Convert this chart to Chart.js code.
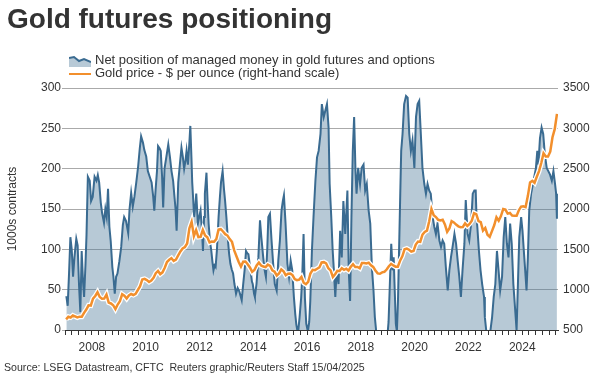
<!DOCTYPE html>
<html>
<head>
<meta charset="utf-8">
<script src="https://cdn.jsdelivr.net/npm/chart.js@4.4.1/dist/chart.umd.min.js"></script>
<style>
  body { margin: 0; background: #fff; }
  #wrap { position: relative; width: 600px; height: 376px; overflow: hidden; font-family: "Liberation Sans", Arial, sans-serif; color: #333; }
  #chart { position: absolute; left: 0; top: 0; }
  .title { position: absolute; left: 7px; top: 5px; font-size: 28px; font-weight: bold; line-height: 28px; color: #333; white-space: nowrap; }
  .legend { position: absolute; left: 69px; font-size: 13px; line-height: 13px; white-space: nowrap; }
  .legend svg { vertical-align: middle; margin-right: 4px; }
  .source { position: absolute; left: 4px; top: 361px; font-size: 10.6px; white-space: nowrap; }
</style>
</head>
<body>
<div id="wrap">
  <canvas id="chart" width="600" height="376"></canvas>
  <div class="title">Gold futures positioning</div>
  <div class="legend" style="top:53px"><svg width="22" height="12"><polygon points="0,3 5,2 10,6 15,4 22,7 22,12 0,12" fill="#b7c9d6"/><polyline points="0,3 5,2 10,6 15,4 22,7" fill="none" stroke="#3a6b91" stroke-width="2"/></svg>Net position of managed money in gold futures and options</div>
  <div class="legend" style="top:66px"><svg width="22" height="12"><line x1="0" y1="6" x2="22" y2="6" stroke="#f28f2c" stroke-width="2"/></svg>Gold price - $ per ounce (right-hand scale)</div>
  <div class="source">Source: LSEG Datastream, CFTC&nbsp; Reuters graphic/Reuters Staff 15/04/2025</div>
</div>
<script>
// net position of managed money, 1000s contracts: [decimal year, value]
const netPosition = [
  [2007.05, 42], [2007.1, 30], [2007.15, 70], [2007.2, 115], [2007.25, 100], [2007.3, 66], [2007.35, 90],
  [2007.42, 113], [2007.47, 105], [2007.52, 57], [2007.57, 22], [2007.62, 98], [2007.67, 60], [2007.71, 41],
  [2007.76, 80], [2007.8, 118], [2007.85, 190], [2007.92, 185], [2007.97, 160],
  [2008.03, 165], [2008.1, 190], [2008.17, 185], [2008.22, 192], [2008.27, 183], [2008.33, 158], [2008.38, 145],
  [2008.45, 133], [2008.5, 150], [2008.55, 140], [2008.6, 175], [2008.65, 128], [2008.7, 110], [2008.76, 78],
  [2008.8, 66], [2008.85, 45], [2008.9, 66], [2008.95, 70],
  [2009.02, 85], [2009.09, 103], [2009.15, 130], [2009.2, 140], [2009.27, 135], [2009.35, 120], [2009.4, 150],
  [2009.46, 170], [2009.52, 153], [2009.58, 165], [2009.65, 183], [2009.72, 203], [2009.78, 225], [2009.83, 240],
  [2009.9, 232], [2009.95, 223],
  [2010.02, 215], [2010.08, 197], [2010.15, 190], [2010.22, 183], [2010.28, 165], [2010.32, 148], [2010.37, 175],
  [2010.42, 197], [2010.46, 228], [2010.52, 225], [2010.56, 222], [2010.61, 190], [2010.65, 152], [2010.7, 200],
  [2010.77, 215], [2010.84, 230], [2010.9, 215], [2010.96, 197],
  [2011.02, 185], [2011.06, 169], [2011.11, 150], [2011.15, 123], [2011.21, 183], [2011.27, 205], [2011.33, 226],
  [2011.38, 215], [2011.43, 200], [2011.48, 210], [2011.52, 222], [2011.57, 205], [2011.62, 230], [2011.66, 253],
  [2011.7, 215], [2011.73, 183], [2011.77, 160], [2011.8, 140], [2011.85, 155], [2011.88, 169], [2011.94, 132],
  [2011.99, 140],
  [2012.04, 148], [2012.09, 125], [2012.13, 98], [2012.17, 140], [2012.2, 169], [2012.26, 195], [2012.3, 160],
  [2012.34, 132], [2012.39, 110], [2012.44, 98], [2012.48, 85], [2012.52, 74], [2012.56, 80], [2012.6, 78],
  [2012.65, 100], [2012.71, 140], [2012.76, 165], [2012.8, 183], [2012.86, 197], [2012.91, 175], [2012.95, 161],
  [2013.0, 140], [2013.05, 115], [2013.1, 95], [2013.15, 82], [2013.2, 75], [2013.25, 70], [2013.3, 57],
  [2013.36, 45], [2013.42, 52], [2013.48, 48], [2013.53, 42], [2013.57, 37], [2013.62, 55], [2013.68, 75],
  [2013.73, 98], [2013.78, 95], [2013.82, 94], [2013.87, 80], [2013.9, 74], [2013.95, 60], [2013.98, 57],
  [2014.03, 45], [2014.06, 41], [2014.12, 57], [2014.19, 90], [2014.25, 136], [2014.3, 115], [2014.37, 90],
  [2014.42, 75], [2014.47, 66], [2014.52, 100], [2014.56, 140], [2014.62, 144], [2014.68, 111], [2014.74, 82],
  [2014.8, 57], [2014.87, 49], [2014.93, 86], [2014.99, 111],
  [2015.05, 148], [2015.1, 160], [2015.14, 167], [2015.2, 132], [2015.27, 82], [2015.33, 66], [2015.39, 86],
  [2015.45, 74], [2015.51, 41], [2015.56, 20], [2015.6, 7], [2015.66, -5], [2015.72, 15], [2015.78, 40],
  [2015.82, 66], [2015.87, 119], [2015.92, 40], [2015.97, 8],
  [2016.03, -2], [2016.08, 10], [2016.12, 36], [2016.18, 98], [2016.24, 140], [2016.31, 185], [2016.37, 214],
  [2016.43, 222], [2016.5, 243], [2016.55, 280], [2016.62, 264], [2016.68, 272], [2016.74, 280], [2016.8, 251],
  [2016.84, 181], [2016.9, 140], [2016.95, 100], [2016.99, 78],
  [2017.05, 41], [2017.1, 74], [2017.17, 57], [2017.23, 123], [2017.29, 90], [2017.35, 160], [2017.42, 119],
  [2017.5, 173], [2017.55, 74], [2017.6, 36], [2017.65, 140], [2017.7, 222], [2017.75, 264], [2017.8, 197],
  [2017.84, 169], [2017.9, 201], [2017.97, 181],
  [2018.03, 201], [2018.1, 205], [2018.16, 173], [2018.22, 181], [2018.29, 148], [2018.35, 132], [2018.41, 78],
  [2018.47, 49], [2018.52, 16], [2018.58, -5], [2018.7, -15], [2018.85, -20], [2018.98, -10],
  [2019.03, 10], [2019.07, 49], [2019.13, 107], [2019.18, 74], [2019.22, 90], [2019.26, 49], [2019.3, 8],
  [2019.34, -2], [2019.38, 36], [2019.42, 98], [2019.46, 161], [2019.5, 222], [2019.55, 243], [2019.61, 280],
  [2019.68, 290], [2019.74, 288], [2019.8, 243], [2019.86, 222], [2019.92, 235], [2019.99, 201],
  [2020.05, 264], [2020.11, 280], [2020.17, 284], [2020.23, 243], [2020.29, 201], [2020.36, 181], [2020.42, 169],
  [2020.48, 181], [2020.54, 173], [2020.6, 169], [2020.67, 140], [2020.73, 128], [2020.79, 119], [2020.85, 132],
  [2020.92, 111], [2020.98, 103],
  [2021.04, 111], [2021.1, 107], [2021.16, 78], [2021.23, 49], [2021.29, 74], [2021.35, 90], [2021.41, 103],
  [2021.48, 119], [2021.54, 107], [2021.6, 86], [2021.66, 66], [2021.72, 41], [2021.78, 74], [2021.85, 107],
  [2021.9, 161], [2021.97, 119],
  [2022.03, 111], [2022.1, 132], [2022.16, 169], [2022.22, 173], [2022.27, 173], [2022.3, 140], [2022.33, 128],
  [2022.39, 98], [2022.45, 74], [2022.51, 57], [2022.58, 41], [2022.61, 16], [2022.66, 0], [2022.74, -5],
  [2022.82, 0], [2022.88, 16], [2022.94, 41],
  [2023.0, 57], [2023.06, 98], [2023.12, 74], [2023.18, 49], [2023.25, 66], [2023.31, 115], [2023.37, 140],
  [2023.43, 107], [2023.49, 90], [2023.55, 132], [2023.61, 107], [2023.67, 57], [2023.74, 24], [2023.79, 0],
  [2023.84, 57], [2023.89, 115], [2023.96, 140],
  [2024.01, 123], [2024.06, 98], [2024.11, 74], [2024.16, 49], [2024.21, 90], [2024.26, 148], [2024.33, 169],
  [2024.42, 185], [2024.51, 201], [2024.56, 222], [2024.6, 205], [2024.66, 238], [2024.72, 251], [2024.78, 243],
  [2024.84, 218], [2024.91, 201], [2024.97, 197],
  [2025.03, 193], [2025.1, 185], [2025.16, 197], [2025.22, 181], [2025.26, 169], [2025.29, 138]
];

// gold price, $ per ounce, monthly from Jan 2007
const goldPrice = [
  632, 665, 655, 680, 668, 655, 665, 665, 712, 754, 806, 803,
  889, 922, 968, 909, 888, 890, 939, 839, 829, 807, 760, 816,
  858, 943, 924, 890, 928, 946, 934, 949, 996, 1043, 1127, 1134,
  1118, 1095, 1113, 1148, 1205, 1232, 1193, 1215, 1271, 1343, 1370, 1391,
  1356, 1372, 1424, 1474, 1510, 1529, 1573, 1760, 1840, 1665, 1739, 1652,
  1656, 1742, 1673, 1650, 1585, 1596, 1594, 1626, 1744, 1750, 1721, 1688,
  1671, 1627, 1593, 1487, 1414, 1343, 1286, 1347, 1349, 1316, 1275, 1221,
  1244, 1300, 1336, 1299, 1287, 1279, 1311, 1296, 1239, 1222, 1176, 1201,
  1251, 1227, 1179, 1198, 1199, 1181, 1131, 1117, 1125, 1159, 1086, 1068,
  1097, 1200, 1246, 1242, 1260, 1276, 1337, 1341, 1326, 1266, 1238, 1157,
  1192, 1234, 1231, 1267, 1246, 1260, 1236, 1283, 1315, 1280, 1282, 1265,
  1331, 1331, 1325, 1335, 1303, 1282, 1238, 1202, 1198, 1215, 1221, 1250,
  1291, 1320, 1300, 1285, 1284, 1359, 1413, 1500, 1510, 1495, 1471, 1480,
  1560, 1597, 1592, 1683, 1715, 1732, 1847, 2000, 1922, 1900, 1866, 1858,
  1867, 1808, 1718, 1760, 1850, 1834, 1807, 1785, 1775, 1777, 1821, 1790,
  1816, 1856, 1948, 1937, 1849, 1837, 1733, 1765, 1681, 1655, 1726, 1798,
  1898, 1855, 1913, 2000, 1992, 1943, 1951, 1918, 1916, 1916, 1985, 2030,
  2034, 2023, 2160, 2330, 2350, 2325, 2400, 2470, 2570, 2690, 2650, 2650,
  2710, 2890, 2990, 3180
];

const leftTicks = [0, 50, 100, 150, 200, 250, 300];
const rightTicks = [500, 1000, 1500, 2000, 2500, 3000, 3500];

const netData = netPosition.map(p => ({ x: p[0], y: p[1] }));
const goldData = goldPrice.map((v, i) => ({ x: 2007 + (i + 0.5) / 12, y: v }));

Chart.defaults.font.family = '"Liberation Sans", Arial, sans-serif';
Chart.defaults.font.size = 12;
Chart.defaults.color = '#333';

new Chart(document.getElementById('chart'), {
  type: 'line',
  data: {
    datasets: [
      {
        label: 'Gold price',
        data: goldData,
        yAxisID: 'y1',
        borderColor: '#f28f2c',
        borderWidth: 2.5,
        pointRadius: 0,
        tension: 0,
        order: 0
      },
      {
        label: 'halo',
        data: goldData,
        yAxisID: 'y1',
        borderColor: '#ffffff',
        borderWidth: 5,
        pointRadius: 0,
        tension: 0,
        order: 1
      },
      {
        label: 'Net position',
        data: netData,
        yAxisID: 'y',
        borderColor: '#3a6b91',
        borderWidth: 2,
        backgroundColor: 'rgba(75, 120, 152, 0.4)',
        fill: 'origin',
        pointRadius: 0,
        tension: 0,
        order: 2
      }
    ]
  },
  options: {
    responsive: false,
    animation: false,
    layout: { padding: { top: 88, left: 0, right: 0, bottom: 0 } },
    plugins: { legend: { display: false }, tooltip: { enabled: false } },
    scales: {
      x: {
        type: 'linear',
        min: 2007,
        max: 2025.33,
        afterFit: s => { s.height = 46; },
        border: { display: true, color: '#333', width: 1 },
        grid: { drawOnChartArea: false, drawTicks: true, tickLength: 5, color: '#333' },
        ticks: {
          stepSize: 0.25,
          autoSkip: false,
          maxRotation: 0,
          includeBounds: false,
          maxTicksLimit: 200,
          padding: 5,
          callback: v => {
            const r = Math.round(v);
            return (Math.abs(v - r) < 1e-6 && r % 2 === 0) ? String(r) : '';
          }
        }
      },
      y: {
        position: 'left',
        min: 0,
        max: 300,
        afterFit: s => { s.width = 65; },
        afterBuildTicks: s => { s.ticks = leftTicks.map(v => ({ value: v })); },
        border: { display: false },
        grid: { color: '#aaaaaa', tickLength: 3 },
        ticks: { padding: 1 },
        title: { display: true, text: '1000s contracts', padding: { top: 5, bottom: 0 }, font: { size: 12 } }
      },
      y1: {
        position: 'right',
        min: 500,
        max: 3500,
        afterFit: s => { s.width = 42; },
        afterBuildTicks: s => { s.ticks = rightTicks.map(v => ({ value: v })); },
        border: { display: false },
        grid: { display: false, drawTicks: false },
        ticks: { padding: 5, callback: v => String(v) }
      }
    }
  }
});
</script>
</body>
</html>
